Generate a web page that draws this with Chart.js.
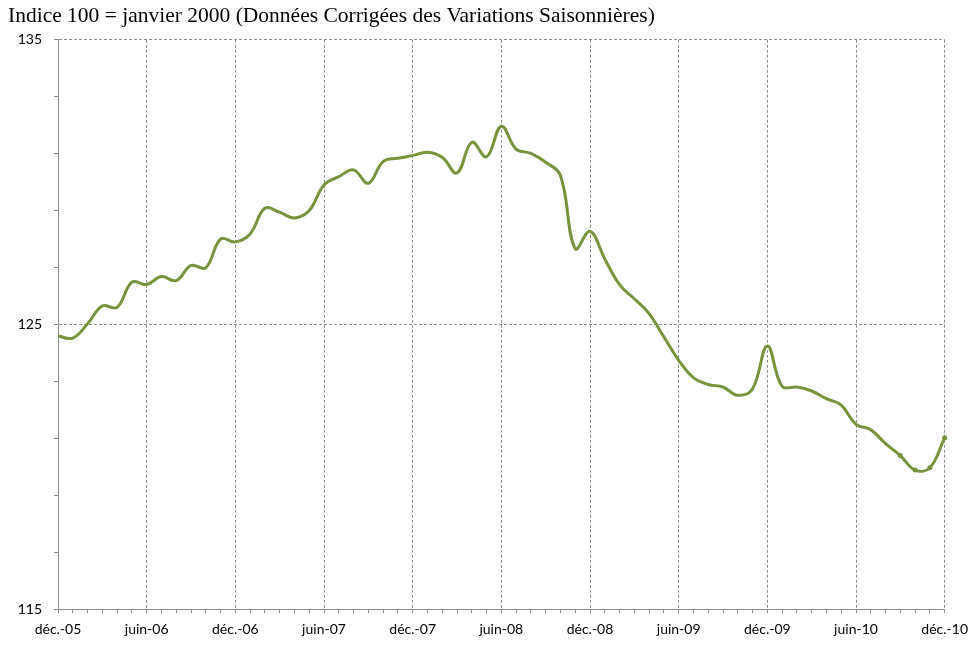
<!DOCTYPE html>
<html><head><meta charset="utf-8">
<script src="https://cdn.jsdelivr.net/npm/chart.js@4.4.1/dist/chart.umd.min.js"></script>
<style>html,body{margin:0;padding:0;background:#fff}#wrap{width:976px;height:647px}</style>
</head><body><div id="wrap"><canvas id="c" width="976" height="647"></canvas></div>
<script>
const titleText = 'Indice 100 = janvier 2000 (Données Corrigées des Variations Saisonnières)';
const months = [
 'déc.-05',
 'janv.-06','févr.-06','mars-06','avr.-06','mai-06','juin-06','juil.-06','août-06','sept.-06','oct.-06','nov.-06','déc.-06',
 'janv.-07','févr.-07','mars-07','avr.-07','mai-07','juin-07','juil.-07','août-07','sept.-07','oct.-07','nov.-07','déc.-07',
 'janv.-08','févr.-08','mars-08','avr.-08','mai-08','juin-08','juil.-08','août-08','sept.-08','oct.-08','nov.-08','déc.-08',
 'janv.-09','févr.-09','mars-09','avr.-09','mai-09','juin-09','juil.-09','août-09','sept.-09','oct.-09','nov.-09','déc.-09',
 'janv.-10','févr.-10','mars-10','avr.-10','mai-10','juin-10','juil.-10','août-10','sept.-10','oct.-10','nov.-10','déc.-10'
];
const indexValues = [
 124.59,
 124.52,125.02,125.65,125.60,126.48,126.40,126.68,126.54,127.07,126.99,128.00,127.90,
 128.18,129.08,128.94,128.74,129.00,129.90,130.19,130.43,129.96,130.72,130.84,130.93,
 131.05,130.87,130.32,131.40,130.89,131.96,131.16,131.01,130.70,130.23,127.66,128.27,
 127.30,126.40,125.90,125.38,124.56,123.74,123.13,122.89,122.80,122.51,122.74,124.24,
 122.82,122.80,122.66,122.39,122.16,121.49,121.30,120.81,120.39,119.88,119.96,121.02
];
const labeledYTicks = [115, 125, 135];
const markedMonths = ['sept.-10','oct.-10','nov.-10','déc.-10'];

const gridGrey = '#8e8e8e';
const tickFont = {family: 'Lato', size: 14};

new Chart(document.getElementById('c'), {
  type: 'line',
  data: {
    labels: months,
    datasets: [{
      data: indexValues,
      borderColor: '#77933C',
      backgroundColor: '#77933C',
      borderWidth: 3,
      tension: 0.4,
      fill: false,
      pointRadius: (ctx) => markedMonths.includes(months[ctx.dataIndex]) ? 2.5 : 0,
      pointBorderWidth: 0,
      pointBackgroundColor: '#77933C'
    }]
  },
  options: {
    responsive: false,
    animation: false,
    layout: {padding: {left: 8, right: 30, top: 0, bottom: 0}},
    plugins: {
      legend: {display: false},
      tooltip: {enabled: false},
      title: {
        display: true,
        text: titleText,
        align: 'start',
        color: '#000',
        font: {family: 'Liberation Serif', size: 21.5, weight: 'normal', lineHeight: 1.2},
        padding: {top: 3, bottom: 11}
      }
    },
    scales: {
      x: {
        type: 'category',
        offset: false,
        afterFit: (s) => { s.height = 38; },
        grid: {
          color: (ctx) => (ctx.index % 6 === 0) ? gridGrey : 'rgba(0,0,0,0)',
          tickColor: gridGrey,
          tickLength: 4,
          lineWidth: 1
        },
        border: {display: true, color: gridGrey, dash: [3, 2]},
        ticks: {
          autoSkip: false,
          maxRotation: 0,
          minRotation: 0,
          padding: 8,
          color: '#000',
          font: tickFont,
          callback: function(v, i) { return i % 6 === 0 ? this.getLabelForValue(v) : ''; }
        }
      },
      y: {
        min: 115,
        max: 135,
        afterFit: (s) => { s.width = 50; },
        grid: {
          color: (ctx) => (ctx.tick && labeledYTicks.includes(ctx.tick.value)) ? gridGrey : 'rgba(0,0,0,0)',
          tickColor: gridGrey,
          tickLength: 4,
          lineWidth: 1
        },
        border: {display: true, color: gridGrey, dash: [3, 2]},
        ticks: {
          stepSize: 2,
          padding: 12,
          color: '#000',
          font: tickFont,
          callback: (v) => labeledYTicks.includes(v) ? String(v) : ''
        }
      }
    }
  }
});
</script>
</body></html>
